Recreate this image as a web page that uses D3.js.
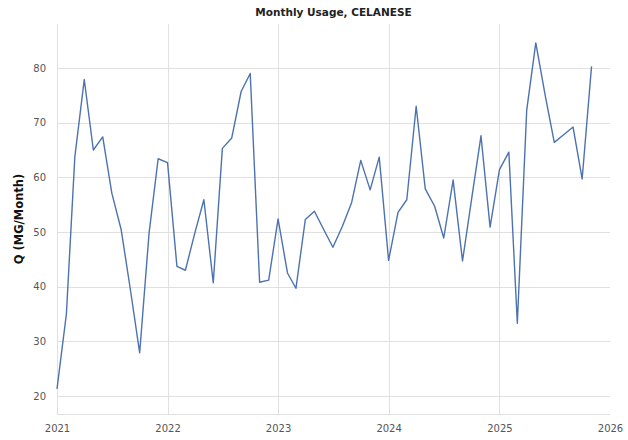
<!DOCTYPE html>
<html>
<head>
<meta charset="utf-8">
<script src="https://cdn.jsdelivr.net/npm/d3@7"></script>
<style>
  body { margin: 0; background: #fff; }
  svg { display: block; font-family: "DejaVu Sans", sans-serif; }
</style>
</head>
<body>
<svg id="chart" width="628" height="440"></svg>
<script>
// monthly usage, Jan 2021 .. Nov 2025
const startMonth = "2021-01";
const usage = [
  21.3, 35.0, 63.8, 77.9, 65.0, 67.4, 57.1, 50.4, 39.2, 27.9, 49.8, 63.4,
  62.7, 43.7, 43.0, 49.8, 55.9, 40.7, 65.3, 67.2, 75.7, 79.0, 40.8, 41.2,
  52.4, 42.5, 39.7, 52.3, 53.8, 50.4, 47.2, 51.0, 55.4, 63.1, 57.7, 63.7,
  44.8, 53.6, 55.9, 73.0, 57.9, 54.7, 48.9, 59.5, 44.7, 56.0, 67.6, 50.9,
  61.4, 64.6, 33.3, 72.3, 84.6, 75.0, 66.4, 67.8, 69.2, 59.7, 80.3
];
const yTicks = [20, 30, 40, 50, 60, 70, 80];
const xTickYears = [2021, 2022, 2023, 2024, 2025, 2026];
const title = "Monthly Usage, CELANESE";
const yLabel = "Q (MG/Month)";

const parseMonth = d3.timeParse("%Y-%m");
const t0 = parseMonth(startMonth);
const data = usage.map((v, i) => ({ date: d3.timeMonth.offset(t0, i), value: v }));

const svg = d3.select("#chart");
const plotLeft = 57, plotRight = 610, plotTop = 24, plotBottom = 414;

const x = d3.scaleTime()
  .domain([new Date(2021, 0, 1), new Date(2026, 0, 1)])
  .range([plotLeft, plotRight]);

const y = d3.scaleLinear()
  .domain([16.7, 88.05])
  .range([plotBottom, plotTop]);

const yearDates = xTickYears.map(yr => new Date(yr, 0, 1));

// grid
const grid = svg.append("g").attr("stroke", "#e0e0e0").attr("stroke-width", 1);
grid.selectAll(".hg").data(yTicks).enter().append("line")
  .attr("x1", plotLeft).attr("x2", plotRight)
  .attr("y1", d => Math.round(y(d)) + 0.5).attr("y2", d => Math.round(y(d)) + 0.5);
grid.selectAll(".vg").data(yearDates.slice(0, -1)).enter().append("line")
  .attr("x1", d => Math.round(x(d)) + 0.5).attr("x2", d => Math.round(x(d)) + 0.5)
  .attr("y1", plotTop).attr("y2", plotBottom);
grid.append("line")
  .attr("x1", plotLeft).attr("x2", plotRight)
  .attr("y1", plotBottom + 0.5).attr("y2", plotBottom + 0.5);

// axes (labels only)
const xAxis = svg.append("g")
  .attr("transform", `translate(0,${plotBottom})`)
  .call(d3.axisBottom(x).tickValues(yearDates).tickFormat(d3.timeFormat("%Y")).tickSize(0).tickPadding(11));
const yAxis = svg.append("g")
  .attr("transform", `translate(${plotLeft},0)`)
  .call(d3.axisLeft(y).tickValues(yTicks).tickSize(0).tickPadding(11));
[xAxis, yAxis].forEach(g => {
  g.select(".domain").remove();
  g.selectAll("text").attr("fill", "#555").style("font-size", "10px").style("font-family", "'DejaVu Sans', sans-serif");
});

// line
const line = d3.line()
  .x(d => x(d.date))
  .y(d => y(d.value));

svg.append("path")
  .datum(data)
  .attr("fill", "none")
  .attr("stroke", "#4c72b0")
  .attr("stroke-width", 1.4)
  .attr("stroke-linejoin", "round")
  .attr("d", line);

// title + label
svg.append("text")
  .attr("x", (plotLeft + plotRight) / 2)
  .attr("y", 16)
  .attr("text-anchor", "middle")
  .attr("fill", "#222")
  .style("font-size", "10.5px")
  .style("font-weight", "bold")
  .text(title);

svg.append("text")
  .attr("transform", `translate(19,${(plotTop + plotBottom) / 2}) rotate(-90)`)
  .attr("text-anchor", "middle")
  .attr("dy", "0.35em")
  .attr("fill", "#111")
  .style("font-size", "11.5px")
  .style("font-weight", "bold")
  .text(yLabel);
</script>
</body>
</html>
